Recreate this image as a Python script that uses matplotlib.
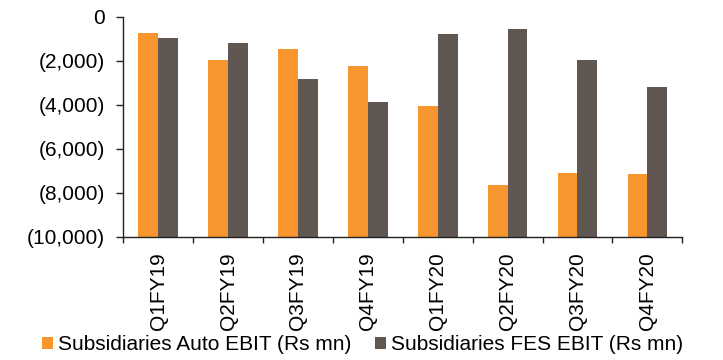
import matplotlib
matplotlib.use("Agg")
import matplotlib.pyplot as plt
import numpy as np
from matplotlib.ticker import FuncFormatter, FixedLocator

plt.rcParams['font.family'] = ['Liberation Sans', 'DejaVu Sans']

categories = ["Q1FY19", "Q2FY19", "Q3FY19", "Q4FY19", "Q1FY20", "Q2FY20", "Q3FY20", "Q4FY20"]
auto_ebit = [-760, -1990, -1470, -2260, -4060, -7650, -7090, -7170]
fes_ebit = [-980, -1180, -2850, -3890, -800, -575, -1985, -3210]
series_names = ["Subsidiaries Auto EBIT (Rs mn)", "Subsidiaries FES EBIT (Rs mn)"]

fig = plt.figure(figsize=(7.23, 3.6), dpi=100)
ax = fig.add_axes([123.3/723, 1-236.7/360, (682.3-123.3)/723, (236.7-16.7)/360])

base = -10000
x = np.arange(len(categories))
w = 0.283
c_auto = "#F7962F"
c_fes = "#605652"
ax.bar(x - w/2, np.array(auto_ebit) - base, bottom=base, width=w, color=c_auto, label=series_names[0])
ax.bar(x + w/2, np.array(fes_ebit) - base, bottom=base, width=w, color=c_fes, label=series_names[1])

ax.set_xlim(-0.5, len(categories) - 0.5)
ax.set_ylim(-10000, 0)
ax.set_yticks(np.arange(-10000, 1, 2000))

def fmt(v, pos):
    v = int(round(v))
    if v < 0:
        return "({:,})".format(-v)
    return "{:,}".format(v)

ax.yaxis.set_major_formatter(FuncFormatter(fmt))
ax.set_xticks(x)
ax.set_xticklabels(categories, rotation=90, fontsize=15)
ax.xaxis.set_minor_locator(FixedLocator(np.arange(-0.5, len(categories), 1)))
ax.tick_params(axis='x', which='major', length=0, pad=11.5)
ax.tick_params(axis='x', which='minor', length=4.5, width=1, color="#222222", direction='out')
ax.tick_params(axis='y', length=4.8, width=1, color="#222222", labelsize=15, pad=8.4)

for s in ["top", "right"]:
    ax.spines[s].set_visible(False)
for s in ["left", "bottom"]:
    ax.spines[s].set_color("#222222")
    ax.spines[s].set_linewidth(1)

fig.legend(loc="center", bbox_to_anchor=(362.5/723, 1-345/360), ncol=2, frameon=False,
           fontsize=15, handlelength=0.53, handleheight=0.53, handletextpad=0.24,
           columnspacing=1.16, borderpad=0, borderaxespad=0)

fig.savefig("out.png", dpi=100)
